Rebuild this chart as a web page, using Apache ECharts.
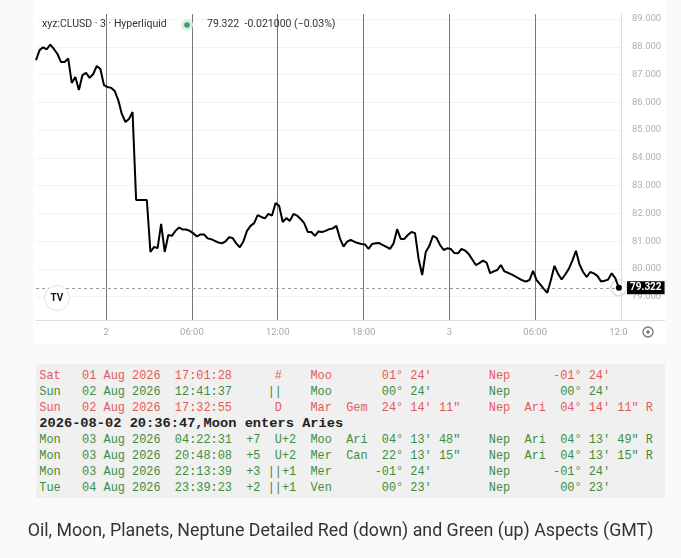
<!DOCTYPE html>
<html>
<head>
<meta charset="utf-8">
<script src="https://cdn.jsdelivr.net/npm/echarts@6/dist/echarts.min.js"></script>
<style>
  html, body { margin: 0; padding: 0; background: #fafafa; }
  #panel { position: absolute; left: 33px; top: 0; width: 632px; height: 344px; background: #fff; }
  #chart { position: absolute; left: 0; top: 0; width: 681px; height: 558px; }
  #table {
    position: absolute; left: 36px; top: 364px; width: 629px; height: 134px;
    background: #f0f0f0; box-sizing: border-box; padding: 3.6px 0 0 3.3px;
    font-family: "Liberation Mono", monospace; font-size: 11.9px; line-height: 16.1px;
  }
  #table div { white-space: pre; height: 16.1px; }
  #table .bold { font-weight: bold; font-size: 13.7px; color: #222; }
  #caption {
    position: absolute; left: 0; top: 519px; width: 681px; text-align: center;
    font-family: Roboto, sans-serif; font-size: 17.8px; color: #333;
  }
</style>
</head>
<body>
<div id="panel"></div>
<div id="chart"></div>
<div id="table"></div>
<div id="caption">Oil, Moon, Planets, Neptune Detailed Red (down) and Green (up) Aspects (GMT)</div>
<script>
// 15-minute closes, Aug 1 19:06 -> Aug 3 11:51 (local time)
const START = new Date(2026, 7, 1, 19, 6).getTime();
const STEP = 15 * 60 * 1000;
const priceValues = [
  87.52, 87.88, 87.98, 87.91, 88.08, 87.92, 87.74, 87.45, 87.45, 87.58,
  86.70, 86.91, 86.44, 86.98, 87.06, 86.88, 87.02, 87.31, 87.20, 86.62,
  86.55, 86.52, 86.41, 86.08, 85.58, 85.29, 85.40, 85.65, 82.48, 82.48,
  82.48, 82.48, 80.61, 80.79, 80.75, 81.62, 80.61, 81.22, 81.19, 81.37,
  81.49, 81.42, 81.42, 81.37, 81.28, 81.17, 81.24, 81.24, 81.10, 81.07,
  81.01, 80.95, 80.92, 80.99, 81.14, 81.11, 80.92, 80.78, 80.99, 81.37,
  81.55, 81.65, 81.94, 81.87, 81.82, 81.98, 81.92, 82.37, 82.27, 81.69,
  81.83, 81.73, 81.98, 81.92, 81.80, 81.65, 81.33, 81.33, 81.19, 81.35,
  81.33, 81.37, 81.43, 81.46, 81.55, 81.10, 80.80, 80.98, 81.04, 80.98,
  80.93, 80.90, 80.88, 80.72, 80.90, 80.92, 80.93, 80.86, 80.79, 80.72,
  80.92, 81.43, 81.08, 81.08, 81.22, 81.33, 81.29, 80.36, 79.78, 80.61,
  80.83, 81.19, 81.12, 80.86, 80.68, 80.74, 80.72, 80.57, 80.56, 80.72,
  80.66, 80.54, 80.34, 80.14, 80.21, 80.30, 80.23, 79.85, 79.91, 79.96,
  80.14, 79.91, 79.86, 79.80, 79.73, 79.66, 79.59, 79.54, 79.60, 79.93,
  79.60, 79.44, 79.28, 79.14, 79.60, 80.11, 79.82, 79.62, 79.80, 80.00,
  80.30, 80.65, 80.16, 79.89, 79.71, 79.89, 79.84, 79.75, 79.55, 79.57,
  79.62, 79.84, 79.67, 79.322,
];
const priceTimes = priceValues.map((_, i) => START + i * STEP);

const lastPrice = 79.322;
const headerSymbol = "xyz:CLUSD · 3 · Hyperliquid";
const headerQuote = "79.322  -0.021000 (−0.03%)";

const timeTicks = [
  new Date(2026, 7, 2, 0).getTime(),
  new Date(2026, 7, 2, 6).getTime(),
  new Date(2026, 7, 2, 12).getTime(),
  new Date(2026, 7, 2, 18).getTime(),
  new Date(2026, 7, 3, 0).getTime(),
  new Date(2026, 7, 3, 6).getTime(),
  new Date(2026, 7, 3, 12).getTime(),
];
const priceTicks = [79, 80, 81, 82, 83, 84, 85, 86, 87, 88, 89];

// aspect table: [column, text] pairs per row
const RED = "#e05c5c";
const GREEN = "#3e8e3e";
const aspectRows = [
  { color: RED, cells: [[0, "Sat"], [6, "01 Aug 2026"], [19, "17:01:28"], [33, "#"], [38, "Moo"], [48, "01° 24'"], [63, "Nep"], [72, "-01° 24'"]] },
  { color: GREEN, cells: [[0, "Sun"], [6, "02 Aug 2026"], [19, "12:41:37"], [32, "||"], [38, "Moo"], [48, "00° 24'"], [63, "Nep"], [73, "00° 24'"]] },
  { color: RED, cells: [[0, "Sun"], [6, "02 Aug 2026"], [19, "17:32:55"], [33, "D"], [38, "Mar"], [43, "Gem"], [48, "24° 14' 11\""], [63, "Nep"], [68, "Ari"], [73, "04° 14' 11\" R"]] },
  { bold: true, cells: [[0, "2026-08-02 20:36:47,Moon enters Aries"]] },
  { color: GREEN, cells: [[0, "Mon"], [6, "03 Aug 2026"], [19, "04:22:31"], [29, "+7"], [33, "U+2"], [38, "Moo"], [43, "Ari"], [48, "04° 13' 48\""], [63, "Nep"], [68, "Ari"], [73, "04° 13' 49\" R"]] },
  { color: GREEN, cells: [[0, "Mon"], [6, "03 Aug 2026"], [19, "20:48:08"], [29, "+5"], [33, "U+2"], [38, "Mer"], [43, "Can"], [48, "22° 13' 15\""], [63, "Nep"], [68, "Ari"], [73, "04° 13' 15\" R"]] },
  { color: GREEN, cells: [[0, "Mon"], [6, "03 Aug 2026"], [19, "22:13:39"], [29, "+3"], [32, "||+1"], [38, "Mer"], [47, "-01° 24'"], [63, "Nep"], [72, "-01° 24'"]] },
  { color: GREEN, cells: [[0, "Tue"], [6, "04 Aug 2026"], [19, "23:39:23"], [29, "+2"], [32, "||+1"], [38, "Ven"], [48, "00° 23'"], [63, "Nep"], [73, "00° 23'"]] },
];

function buildLine(cells) {
  let line = "";
  cells.forEach(([col, text]) => {
    while (line.length < col) line += " ";
    line += text;
  });
  return line;
}

function renderTable() {
  const el = document.getElementById("table");
  aspectRows.forEach((row) => {
    const div = document.createElement("div");
    div.textContent = buildLine(row.cells);
    if (row.bold) div.className = "bold";
    else div.style.color = row.color;
    el.appendChild(div);
  });
}

function pad2(n) {
  return (n < 10 ? "0" : "") + n;
}

function timeLabel(value) {
  const d = new Date(value);
  if (d.getHours() === 0 && d.getMinutes() === 0) return String(d.getDate());
  return pad2(d.getHours()) + ":" + pad2(d.getMinutes());
}

function renderChart() {
  const chart = echarts.init(document.getElementById("chart"));
  const lastTime = priceTimes[priceTimes.length - 1];
  chart.setOption({
    animation: false,
    grid: { left: 36, right: 60, top: 14, bottom: 238 },
    // numeric timestamps on a value axis so the 6-hour ticks can be fixed
    xAxis: {
      type: "value",
      min: new Date(2026, 7, 1, 19, 6).getTime(),
      max: new Date(2026, 7, 3, 12).getTime(),
      axisLine: { lineStyle: { color: "#dddddd" } },
      axisTick: { show: false, customValues: timeTicks },
      axisLabel: {
        customValues: timeTicks,
        formatter: timeLabel,
        color: "#a8a8a8",
        fontSize: 9.5,
        margin: 8,
        fontFamily: "Roboto",
      },
      splitLine: { show: true, lineStyle: { color: "#777777", width: 1 } },
    },
    yAxis: {
      type: "value",
      position: "right",
      min: 78.16,
      max: 89.18,
      axisLine: { show: true, lineStyle: { color: "#dddddd" } },
      axisTick: { show: false, customValues: priceTicks },
      axisLabel: {
        customValues: priceTicks,
        formatter: (v) => v.toFixed(3),
        color: "#b0b0b0",
        fontSize: 9.5,
        margin: 11,
        fontFamily: "Roboto",
      },
      splitLine: { show: true, lineStyle: { color: "#f3f3f3" } },
    },
    series: [
      {
        type: "line",
        data: priceTimes.map((t, i) => [t, priceValues[i]]),
        symbol: "none",
        lineStyle: { color: "#000", width: 2 },
        z: 5,
        markLine: {
          silent: true,
          symbol: "none",
          data: [{ yAxis: lastPrice }],
          lineStyle: { color: "#9a9a9a", type: [3, 3], width: 1 },
          label: {
            position: "end",
            distance: 6,
            formatter: lastPrice.toFixed(3),
            backgroundColor: "#000",
            color: "#fff",
            fontSize: 10,
            fontWeight: "bold",
            fontFamily: "Roboto",
            padding: [2, 3, 1, 3],
          },
        },
        markPoint: {
          silent: true,
          symbol: "circle",
          label: { show: false },
          data: [
            { coord: [lastTime, lastPrice], symbolSize: 16, itemStyle: { color: "rgba(0,0,0,0)", borderColor: "#cfe7d8", borderWidth: 1.5 } },
            { coord: [lastTime, lastPrice], symbolSize: 6, itemStyle: { color: "#000" } },
          ],
        },
      },
    ],
    graphic: [
      { type: "text", left: 42, top: 19, z: 100, style: { text: headerSymbol, font: "10.5px Roboto", fill: "#333" } },
      { type: "circle", z: 100, shape: { cx: 187, cy: 25, r: 6 }, style: { fill: "#dcefe5" } },
      { type: "circle", z: 100, shape: { cx: 187, cy: 25, r: 2.8 }, style: { fill: "#3f9b6e" } },
      { type: "text", left: 207, top: 19, z: 100, style: { text: headerQuote, font: "10.5px Roboto", fill: "#333" } },
      { type: "circle", z: 100, shape: { cx: 57, cy: 298, r: 12.5 }, style: { fill: "#fff", stroke: "#e4e4e4", lineWidth: 1 } },
      { type: "text", z: 101, x: 57, y: 298, style: { text: "TV", font: "bold 10px Roboto", fill: "#111", align: "center", verticalAlign: "middle" } },
      { type: "line", z: 100, shape: { x1: 621, y1: 320.5, x2: 665, y2: 320.5 }, style: { stroke: "#dddddd", lineWidth: 1 } },
      { type: "rect", z: 100, shape: { x: 627, y: 323, width: 38, height: 20 }, style: { fill: "#fff" } },
      { type: "circle", z: 101, shape: { cx: 648, cy: 332, r: 5 }, style: { fill: "none", stroke: "#777", lineWidth: 1.3 } },
      { type: "circle", z: 101, shape: { cx: 648, cy: 332, r: 1.8 }, style: { fill: "#777" } },
    ],
  });
  return chart;
}

renderTable();
renderChart();
</script>
</body>
</html>
